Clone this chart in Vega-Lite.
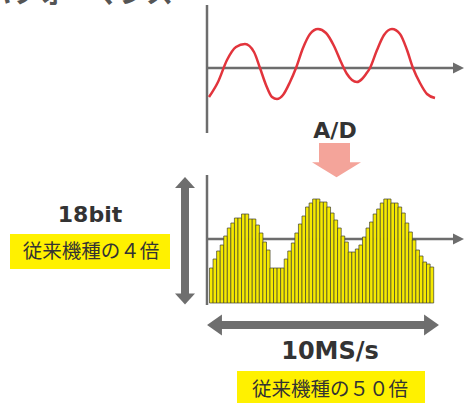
{
  "$schema": "https://vega.github.io/schema/vega-lite/v6.json",
  "width": 469,
  "height": 403,
  "padding": 0,
  "autosize": {"type": "none"},
  "background": "white",
  "config": {"view": {"stroke": null}},
  "datasets": {
    "wave": [
      {"x": 209, "y": 97}, {"x": 218, "y": 82}, {"x": 227, "y": 60}, {"x": 236, "y": 47}, {"x": 245, "y": 44},
      {"x": 254, "y": 52}, {"x": 260, "y": 68}, {"x": 266, "y": 85}, {"x": 272, "y": 97}, {"x": 277, "y": 99},
      {"x": 283, "y": 95}, {"x": 290, "y": 82}, {"x": 296, "y": 68}, {"x": 303, "y": 48}, {"x": 310, "y": 34},
      {"x": 318, "y": 29}, {"x": 326, "y": 33}, {"x": 334, "y": 46}, {"x": 341, "y": 62}, {"x": 347, "y": 74},
      {"x": 352, "y": 80}, {"x": 357, "y": 82}, {"x": 362, "y": 79}, {"x": 366, "y": 74}, {"x": 370, "y": 68},
      {"x": 377, "y": 50}, {"x": 384, "y": 35}, {"x": 392, "y": 29}, {"x": 400, "y": 34}, {"x": 407, "y": 50},
      {"x": 413, "y": 68}, {"x": 420, "y": 83}, {"x": 427, "y": 94}, {"x": 435, "y": 98}
    ],
    "bars": [
      {"t": 0, "level": 35}, {"t": 1, "level": 44}, {"t": 2, "level": 52}, {"t": 3, "level": 58},
      {"t": 4, "level": 67}, {"t": 5, "level": 75}, {"t": 6, "level": 80}, {"t": 7, "level": 85},
      {"t": 8, "level": 85}, {"t": 9, "level": 89}, {"t": 10, "level": 89}, {"t": 11, "level": 84},
      {"t": 12, "level": 84}, {"t": 13, "level": 78}, {"t": 14, "level": 70}, {"t": 15, "level": 61},
      {"t": 16, "level": 53}, {"t": 17, "level": 35}, {"t": 18, "level": 35}, {"t": 19, "level": 35},
      {"t": 20, "level": 35}, {"t": 21, "level": 44}, {"t": 22, "level": 52}, {"t": 23, "level": 60},
      {"t": 24, "level": 70}, {"t": 25, "level": 79}, {"t": 26, "level": 87}, {"t": 27, "level": 96},
      {"t": 28, "level": 100}, {"t": 29, "level": 104}, {"t": 30, "level": 104}, {"t": 31, "level": 101},
      {"t": 32, "level": 101}, {"t": 33, "level": 96}, {"t": 34, "level": 90}, {"t": 35, "level": 83},
      {"t": 36, "level": 75}, {"t": 37, "level": 67}, {"t": 38, "level": 61}, {"t": 39, "level": 51},
      {"t": 40, "level": 51}, {"t": 41, "level": 54}, {"t": 42, "level": 58}, {"t": 43, "level": 66},
      {"t": 44, "level": 75}, {"t": 45, "level": 81}, {"t": 46, "level": 89}, {"t": 47, "level": 94},
      {"t": 48, "level": 100}, {"t": 49, "level": 104}, {"t": 50, "level": 104}, {"t": 51, "level": 100},
      {"t": 52, "level": 100}, {"t": 53, "level": 96}, {"t": 54, "level": 90}, {"t": 55, "level": 80},
      {"t": 56, "level": 71}, {"t": 57, "level": 63}, {"t": 58, "level": 53}, {"t": 59, "level": 47},
      {"t": 60, "level": 41}, {"t": 61, "level": 39}, {"t": 62, "level": 36}
    ],
    "one": [{}]
  },
  "data": {"name": "one"},
  "resolve": {"scale": {"x": "independent", "y": "independent"}},
  "layer": [
    {
      "mark": {"type": "text", "text": "パフォーマンス", "font": "Noto Sans CJK JP", "fontWeight": "bold", "fontSize": 27, "align": "right", "baseline": "alphabetic", "color": "#555555"},
      "encoding": {
        "x": {"datum": 173, "scale": {"domain": [0, 469], "nice": false, "zero": false}, "axis": null},
        "y": {"datum": 3, "scale": {"domain": [0, 403], "nice": false, "zero": false, "reverse": true}, "axis": null}
      }
    },
    {
      "mark": {"type": "rule", "color": "#6d6d6d", "strokeWidth": 2.5},
      "encoding": {
        "x": {"datum": 207, "scale": {"domain": [0, 469], "nice": false, "zero": false}, "axis": null},
        "y": {"datum": 5, "scale": {"domain": [0, 403], "nice": false, "zero": false, "reverse": true}, "axis": null},
        "y2": {"datum": 133}
      }
    },
    {
      "mark": {"type": "rule", "color": "#6d6d6d", "strokeWidth": 2.5},
      "encoding": {
        "x": {"datum": 207, "scale": {"domain": [0, 469], "nice": false, "zero": false}, "axis": null},
        "x2": {"datum": 457},
        "y": {"datum": 68, "scale": {"domain": [0, 403], "nice": false, "zero": false, "reverse": true}, "axis": null}
      }
    },
    {
      "mark": {"type": "point", "shape": "M-1,-1L1,0L-1,1Z", "filled": true, "color": "#6d6d6d", "opacity": 1, "size": 121, "strokeWidth": 0},
      "encoding": {
        "x": {"datum": 458.5, "scale": {"domain": [0, 469], "nice": false, "zero": false}, "axis": null},
        "y": {"datum": 68, "scale": {"domain": [0, 403], "nice": false, "zero": false, "reverse": true}, "axis": null}
      }
    },
    {
      "data": {"name": "wave"},
      "mark": {"type": "line", "color": "#e2343c", "strokeWidth": 2.5, "interpolate": "monotone"},
      "encoding": {
        "x": {"field": "x", "type": "quantitative", "scale": {"domain": [0, 469], "nice": false, "zero": false}, "axis": null},
        "y": {"field": "y", "type": "quantitative", "scale": {"domain": [0, 403], "nice": false, "zero": false, "reverse": true}, "axis": null}
      }
    },
    {
      "mark": {"type": "text", "text": "A/D", "font": "DejaVu Sans", "fontWeight": "bold", "fontSize": 22, "align": "center", "baseline": "middle", "color": "#333333"},
      "encoding": {
        "x": {"datum": 335, "scale": {"domain": [0, 469], "nice": false, "zero": false}, "axis": null},
        "y": {"datum": 131, "scale": {"domain": [0, 403], "nice": false, "zero": false, "reverse": true}, "axis": null}
      }
    },
    {
      "mark": {"type": "rect", "color": "#f4a49a"},
      "encoding": {
        "x": {"datum": 319, "scale": {"domain": [0, 469], "nice": false, "zero": false}, "axis": null},
        "x2": {"datum": 350},
        "y": {"datum": 143, "scale": {"domain": [0, 403], "nice": false, "zero": false, "reverse": true}, "axis": null},
        "y2": {"datum": 163}
      }
    },
    {
      "mark": {"type": "point", "shape": "M-1,-0.3L1,-0.3L0,0.32Z", "filled": true, "color": "#f4a49a", "opacity": 1, "size": 2401, "strokeWidth": 0},
      "encoding": {
        "x": {"datum": 336.5, "scale": {"domain": [0, 469], "nice": false, "zero": false}, "axis": null},
        "y": {"datum": 169.5, "scale": {"domain": [0, 403], "nice": false, "zero": false, "reverse": true}, "axis": null}
      }
    },
    {
      "mark": {"type": "rule", "color": "#6d6d6d", "strokeWidth": 2.5},
      "encoding": {
        "x": {"datum": 207, "scale": {"domain": [0, 469], "nice": false, "zero": false}, "axis": null},
        "y": {"datum": 175, "scale": {"domain": [0, 403], "nice": false, "zero": false, "reverse": true}, "axis": null},
        "y2": {"datum": 305}
      }
    },
    {
      "mark": {"type": "rule", "color": "#6d6d6d", "strokeWidth": 2.5},
      "encoding": {
        "x": {"datum": 207, "scale": {"domain": [0, 469], "nice": false, "zero": false}, "axis": null},
        "x2": {"datum": 457},
        "y": {"datum": 239, "scale": {"domain": [0, 403], "nice": false, "zero": false, "reverse": true}, "axis": null}
      }
    },
    {
      "mark": {"type": "point", "shape": "M-1,-1L1,0L-1,1Z", "filled": true, "color": "#6d6d6d", "opacity": 1, "size": 121, "strokeWidth": 0},
      "encoding": {
        "x": {"datum": 458.5, "scale": {"domain": [0, 469], "nice": false, "zero": false}, "axis": null},
        "y": {"datum": 239, "scale": {"domain": [0, 403], "nice": false, "zero": false, "reverse": true}, "axis": null}
      }
    },
    {
      "data": {"name": "bars"},
      "mark": {"type": "bar", "width": 3.635, "fill": "#f5e900", "stroke": "#3f3f30", "strokeWidth": 0.7},
      "encoding": {
        "x": {"field": "t", "type": "quantitative", "scale": {"domain": [-58.0, 71.03], "nice": false, "zero": false}, "axis": null},
        "y": {"field": "level", "type": "quantitative", "scale": {"domain": [-100, 303], "nice": false, "zero": false}, "axis": null},
        "y2": {"datum": 0}
      }
    },
    {
      "mark": {"type": "rule", "color": "#6e6e6e", "strokeWidth": 8},
      "encoding": {
        "x": {"datum": 185, "scale": {"domain": [0, 469], "nice": false, "zero": false}, "axis": null},
        "y": {"datum": 186, "scale": {"domain": [0, 403], "nice": false, "zero": false, "reverse": true}, "axis": null},
        "y2": {"datum": 295}
      }
    },
    {
      "mark": {"type": "point", "shape": "M0,-0.55L1,0.55L-1,0.55Z", "filled": true, "color": "#6e6e6e", "opacity": 1, "size": 400, "strokeWidth": 0},
      "encoding": {
        "x": {"datum": 185, "scale": {"domain": [0, 469], "nice": false, "zero": false}, "axis": null},
        "y": {"datum": 182.5, "scale": {"domain": [0, 403], "nice": false, "zero": false, "reverse": true}, "axis": null}
      }
    },
    {
      "mark": {"type": "point", "shape": "M0,0.55L1,-0.55L-1,-0.55Z", "filled": true, "color": "#6e6e6e", "opacity": 1, "size": 400, "strokeWidth": 0},
      "encoding": {
        "x": {"datum": 185, "scale": {"domain": [0, 469], "nice": false, "zero": false}, "axis": null},
        "y": {"datum": 299, "scale": {"domain": [0, 403], "nice": false, "zero": false, "reverse": true}, "axis": null}
      }
    },
    {
      "mark": {"type": "rule", "color": "#6e6e6e", "strokeWidth": 8},
      "encoding": {
        "x": {"datum": 218, "scale": {"domain": [0, 469], "nice": false, "zero": false}, "axis": null},
        "x2": {"datum": 428},
        "y": {"datum": 325, "scale": {"domain": [0, 403], "nice": false, "zero": false, "reverse": true}, "axis": null}
      }
    },
    {
      "mark": {"type": "point", "shape": "M-0.71,0L0.71,-1L0.71,1Z", "filled": true, "color": "#6e6e6e", "opacity": 1, "size": 441, "strokeWidth": 0},
      "encoding": {
        "x": {"datum": 214.5, "scale": {"domain": [0, 469], "nice": false, "zero": false}, "axis": null},
        "y": {"datum": 325, "scale": {"domain": [0, 403], "nice": false, "zero": false, "reverse": true}, "axis": null}
      }
    },
    {
      "mark": {"type": "point", "shape": "M0.71,0L-0.71,-1L-0.71,1Z", "filled": true, "color": "#6e6e6e", "opacity": 1, "size": 441, "strokeWidth": 0},
      "encoding": {
        "x": {"datum": 431.5, "scale": {"domain": [0, 469], "nice": false, "zero": false}, "axis": null},
        "y": {"datum": 325, "scale": {"domain": [0, 403], "nice": false, "zero": false, "reverse": true}, "axis": null}
      }
    },
    {
      "mark": {"type": "text", "text": "18bit", "font": "DejaVu Sans", "fontWeight": "bold", "fontSize": 22, "align": "center", "baseline": "middle", "color": "#333333"},
      "encoding": {
        "x": {"datum": 90, "scale": {"domain": [0, 469], "nice": false, "zero": false}, "axis": null},
        "y": {"datum": 215, "scale": {"domain": [0, 403], "nice": false, "zero": false, "reverse": true}, "axis": null}
      }
    },
    {
      "mark": {"type": "rect", "color": "#fff100"},
      "encoding": {
        "x": {"datum": 10, "scale": {"domain": [0, 469], "nice": false, "zero": false}, "axis": null},
        "x2": {"datum": 170},
        "y": {"datum": 234, "scale": {"domain": [0, 403], "nice": false, "zero": false, "reverse": true}, "axis": null},
        "y2": {"datum": 269}
      }
    },
    {
      "mark": {"type": "text", "text": "従来機種の４倍", "font": "Noto Sans CJK JP", "fontSize": 19.5, "align": "center", "baseline": "middle", "color": "#333333"},
      "encoding": {
        "x": {"datum": 91, "scale": {"domain": [0, 469], "nice": false, "zero": false}, "axis": null},
        "y": {"datum": 252, "scale": {"domain": [0, 403], "nice": false, "zero": false, "reverse": true}, "axis": null}
      }
    },
    {
      "mark": {"type": "text", "text": "10MS/s", "font": "DejaVu Sans", "fontWeight": "bold", "fontSize": 24, "align": "center", "baseline": "middle", "color": "#333333"},
      "encoding": {
        "x": {"datum": 330, "scale": {"domain": [0, 469], "nice": false, "zero": false}, "axis": null},
        "y": {"datum": 352, "scale": {"domain": [0, 403], "nice": false, "zero": false, "reverse": true}, "axis": null}
      }
    },
    {
      "mark": {"type": "rect", "color": "#fff100"},
      "encoding": {
        "x": {"datum": 237, "scale": {"domain": [0, 469], "nice": false, "zero": false}, "axis": null},
        "x2": {"datum": 425},
        "y": {"datum": 371, "scale": {"domain": [0, 403], "nice": false, "zero": false, "reverse": true}, "axis": null},
        "y2": {"datum": 405}
      }
    },
    {
      "mark": {"type": "text", "text": "従来機種の５０倍", "font": "Noto Sans CJK JP", "fontSize": 19.5, "align": "center", "baseline": "middle", "color": "#333333"},
      "encoding": {
        "x": {"datum": 330, "scale": {"domain": [0, 469], "nice": false, "zero": false}, "axis": null},
        "y": {"datum": 390, "scale": {"domain": [0, 403], "nice": false, "zero": false, "reverse": true}, "axis": null}
      }
    }
  ]
}
